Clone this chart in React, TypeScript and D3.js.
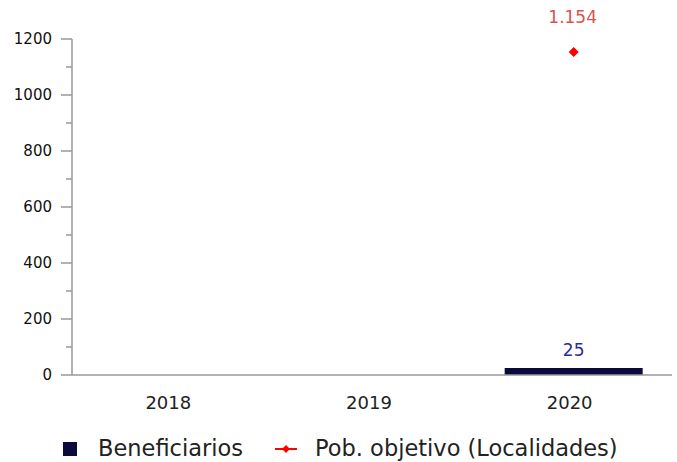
import React from "react";
import * as d3 from "d3";

const categories = ["2018", "2019", "2020"];
const beneficiarios: (number | null)[] = [null, null, 25];
const pobObjetivo: (number | null)[] = [null, null, 1154];
const yTicks = [0, 200, 400, 600, 800, 1000, 1200];
const yMinorTicks = [100, 300, 500, 700, 900, 1100];
const seriesNames = ["Beneficiarios", "Pob. objetivo (Localidades)"];

const W = 677;
const H = 462;
const FONT = "DejaVu Sans, Verdana, sans-serif";

const diamond = (r: number) => `M0,${-r}L${r},0L0,${r}L${-r},0Z`;

export default function App() {
  const left = 72;
  const right = 674;
  const top = 39;
  const bottom = 375;
  const x = d3.scaleBand<string>().domain(categories).range([left, right]).paddingInner(0).paddingOuter(0);
  const y = d3.scaleLinear().domain([0, 1200]).range([bottom, top]);
  const bw = x.bandwidth();
  const barW = 138;
  const fmt = (v: number) => d3.format(",")(v).replace(/,/g, ".");

  return (
    <svg width={W} height={H} style={{ position: "absolute", left: 0, top: 0, background: "#fff" }}>
      {/* y axis */}
      <line x1={left} x2={left} y1={top} y2={bottom} stroke="#999" strokeWidth={1.5} />
      {yTicks.map((t) => (
        <g key={t}>
          <line x1={left - 11} x2={left} y1={y(t)} y2={y(t)} stroke="#999" strokeWidth={1.5} />
          <text x={left - 20} y={y(t)} dy="0.35em" textAnchor="end" fontFamily={FONT} fontSize={15} fill="#111">
            {t}
          </text>
        </g>
      ))}
      {yMinorTicks.map((t) => (
        <line key={t} x1={left - 6} x2={left} y1={y(t)} y2={y(t)} stroke="#999" strokeWidth={1.5} />
      ))}
      {/* bars */}
      {categories.map((c, i) => {
        const v = beneficiarios[i];
        if (v == null) return null;
        const cx = x(c)! + bw / 2;
        return (
          <g key={c}>
            <rect x={cx - barW / 2} y={y(v)} width={barW} height={y(0) - y(v)} fill="#0b0b3b" />
            <text x={cx} y={y(v) - 12} textAnchor="middle" fontFamily={FONT} fontSize={17} fill="#2a2a9a">
              {fmt(v)}
            </text>
          </g>
        );
      })}
      {/* x axis */}
      <line x1={left} x2={672} y1={bottom} y2={bottom} stroke="#999" strokeWidth={1.5} />
      {categories.map((c) => (
        <text key={c} x={x(c)! + bw / 2 - 4} y={409} textAnchor="middle" fontFamily={FONT} fontSize={18} fill="#222">
          {c}
        </text>
      ))}
      {/* points */}
      {categories.map((c, i) => {
        const v = pobObjetivo[i];
        if (v == null) return null;
        const cx = x(c)! + bw / 2;
        const cy = y(v);
        return (
          <g key={c}>
            <path d={diamond(5)} transform={`translate(${cx},${cy})`} fill="#ff0000" />
            <text x={cx - 1} y={23} textAnchor="middle" fontFamily={FONT} fontSize={17} fill="#d9534f">
              {fmt(v)}
            </text>
          </g>
        );
      })}
      {/* legend */}
      <rect x={63} y={442} width={14} height={14} fill="#0b0b3b" />
      <text x={98} y={456} fontFamily={FONT} fontSize={22.5} fill="#222">
        {seriesNames[0]}
      </text>
      <line x1={275} x2={297} y1={449} y2={449} stroke="#ff0000" strokeWidth={2} />
      <path d={diamond(4)} transform="translate(286,449)" fill="#ff0000" />
      <text x={315} y={456} fontFamily={FONT} fontSize={22.5} fill="#222">
        {seriesNames[1]}
      </text>
    </svg>
  );
}
